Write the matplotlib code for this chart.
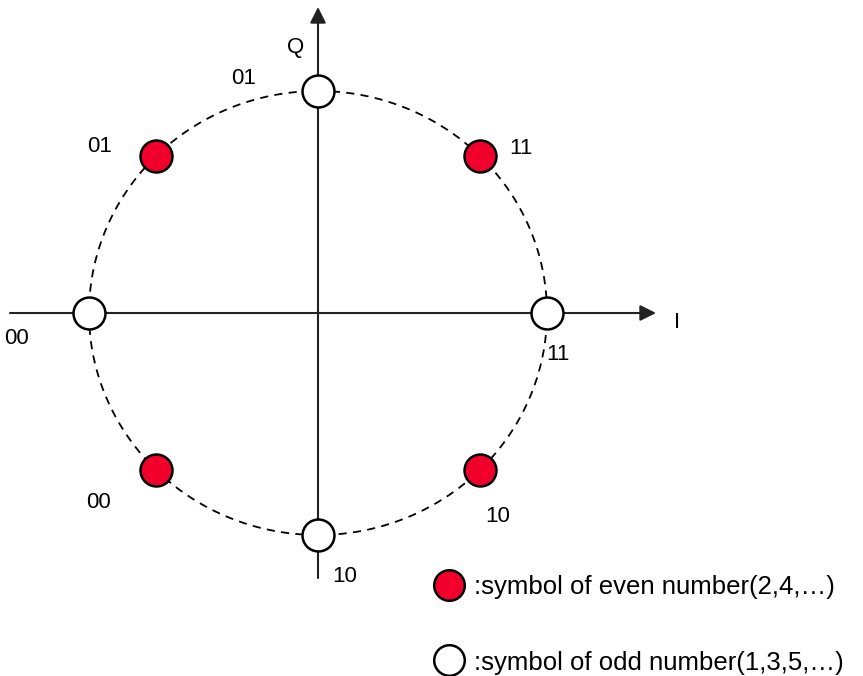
import numpy as np
import matplotlib
matplotlib.use("Agg")
import matplotlib.pyplot as plt

plt.rcParams['font.family'] = ['Liberation Sans', 'DejaVu Sans']

# Data
odd_angles_deg = [90, 180, 0, 270]
odd_labels = ["01", "00", "11", "10"]
even_angles_deg = [135, 45, 225, 315]
even_labels = ["01", "11", "00", "10"]
radius = 1.0
legend_texts = [":symbol of even number(2,4,\u2026)", ":symbol of odd number(1,3,5,\u2026)"]

W, H = 863, 676
CX, CY = 318, 313
SX, SY = 229, 222

def px(x, y):
    return ((x - CX) / SX, (CY - y) / SY)

fig = plt.figure(figsize=(W / 100, H / 100), dpi=100)
ax = fig.add_axes([0, 0, 1, 1])
ax.set_xlim(-CX / SX, (W - CX) / SX)
ax.set_ylim(-(H - CY) / SY, CY / SY)
ax.axis('off')

# axes arrows
ax.annotate('', xy=px(656, 313), xytext=px(10, 313),
            arrowprops=dict(arrowstyle='-|>', mutation_scale=24, lw=1.5, color='#222222', shrinkA=0, shrinkB=0))
ax.annotate('', xy=px(318, 7), xytext=px(318, 578),
            arrowprops=dict(arrowstyle='-|>', mutation_scale=24, lw=1.5, color='#222222', shrinkA=0, shrinkB=0))

# dashed circle
t = np.linspace(0, 2 * np.pi, 400)
ax.plot(radius * np.cos(t), radius * np.sin(t), ls=(0, (4.5, 3.5)), lw=1.3, color='black', zorder=2)

# points
oa = np.radians(odd_angles_deg)
ea = np.radians(even_angles_deg)
ax.plot(radius * np.cos(oa), radius * np.sin(oa), 'o', ms=23, mfc='white', mec='black', mew=1.8, ls='none', zorder=3)
ax.plot(radius * np.cos(ea), radius * np.sin(ea), 'o', ms=23, mfc='#f0002a', mec='black', mew=1.8, ls='none', zorder=3)

fs = 16
odd_label_px = [(244, 78), (17, 339), (558, 355), (345, 577)]
even_label_px = [(100, 147), (521, 148), (99, 503), (498, 516)]
for lab, p in zip(odd_labels, odd_label_px):
    ax.text(*px(*p), lab, ha='center', va='center', fontsize=fs)
for lab, p in zip(even_labels, even_label_px):
    ax.text(*px(*p), lab, ha='center', va='center', fontsize=fs)

ax.text(*px(296, 47), "Q", ha='center', va='center', fontsize=fs)
ax.text(*px(677, 323), "I", ha='center', va='center', fontsize=fs)
ax.text(*px(250, -10), "g", ha='center', va='center', fontsize=fs)

# legend
ax.plot(*px(449, 585), 'o', ms=22, mfc='#f0002a', mec='black', mew=1.8, zorder=3)
ax.plot(*px(449, 660), 'o', ms=22, mfc='white', mec='black', mew=1.8, zorder=3)
ax.text(*px(474, 587), legend_texts[0], ha='left', va='center', fontsize=18.5)
ax.text(*px(474, 663), legend_texts[1], ha='left', va='center', fontsize=18.5)

fig.savefig('out.png', dpi=100)
